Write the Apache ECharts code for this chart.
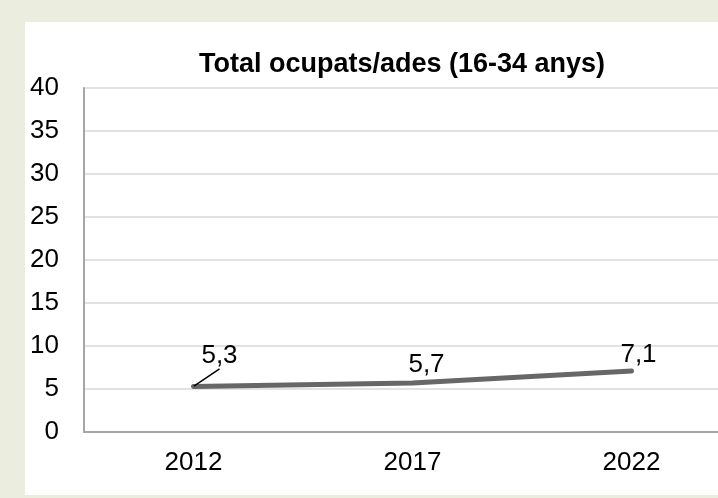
<!DOCTYPE html>
<html>
<head>
<meta charset="utf-8">
<script src="https://cdn.jsdelivr.net/npm/echarts@6/dist/echarts.min.js"></script>
<style>
  html, body { margin: 0; padding: 0; }
  body { width: 718px; height: 498px; background: #ebeedf; position: relative; overflow: hidden; }
  #panel { position: absolute; left: 25px; top: 22px; width: 693px; height: 473px; background: #fff; }
  #chart { position: absolute; left: 0; top: 0; width: 718px; height: 498px; }
</style>
</head>
<body>
<div id="panel"></div>
<div id="chart"></div>
<script>
const titleText = 'Total ocupats/ades (16-34 anys)'
const years = ['2012', '2017', '2022']
const ocupats = [5.3, 5.7, 7.1]
const yTicks = { min: 0, max: 40, interval: 5 }

const chart = echarts.init(document.getElementById('chart'))

// label tweaks so they sit roughly where excel put them
const labelShift = [[26, -12], [14, 0], [7, 2]]

const option = {
  animation: false,
  textStyle: { fontFamily: 'Liberation Sans, Arial, sans-serif' },
  title: {
    text: titleText,
    left: 397,
    top: 46,
    textAlign: 'center',
    textStyle: { fontSize: 27, fontWeight: 'bold', color: '#000', fontFamily: 'Liberation Sans, Arial, sans-serif' }
  },
  grid: { left: 84, top: 88, width: 657, height: 344, containLabel: false, outerBoundsMode: 'none' },
  xAxis: {
    type: 'category',
    data: years,
    boundaryGap: true,
    axisLine: { lineStyle: { color: '#a6a6a6', width: 2 } },
    axisTick: { show: false },
    axisLabel: { fontSize: 26, color: '#000', margin: 18 },
    splitLine: { show: false }
  },
  yAxis: {
    type: 'value',
    min: yTicks.min,
    max: yTicks.max,
    interval: yTicks.interval,
    axisLine: { show: true, lineStyle: { color: '#a6a6a6', width: 2 } },
    axisTick: { show: false },
    axisLabel: { fontSize: 26, color: '#000', margin: 25 },
    splitLine: { lineStyle: { color: '#d9d9d9', width: 1.5 } }
  },
  series: [{
    type: 'line',
    data: ocupats.map((v, i) => ({
      value: v,
      labelLine: { show: i === 0 }
    })),
    symbol: 'circle',
    symbolSize: 1,
    showSymbol: true,
    itemStyle: { color: 'rgba(0,0,0,0)' },
    lineStyle: { color: '#676767', width: 5, cap: 'round' },
    label: {
      show: true,
      position: 'top',
      distance: 5,
      fontSize: 26,
      color: '#000',
      formatter: (p) => String(p.value).replace('.', ',')
    },
    labelLine: { lineStyle: { color: '#000', width: 1.5 } },
    labelLayout: (p) => ({ dx: labelShift[p.dataIndex][0], dy: labelShift[p.dataIndex][1] })
  }]
}

chart.setOption(option)
</script>
</body>
</html>
